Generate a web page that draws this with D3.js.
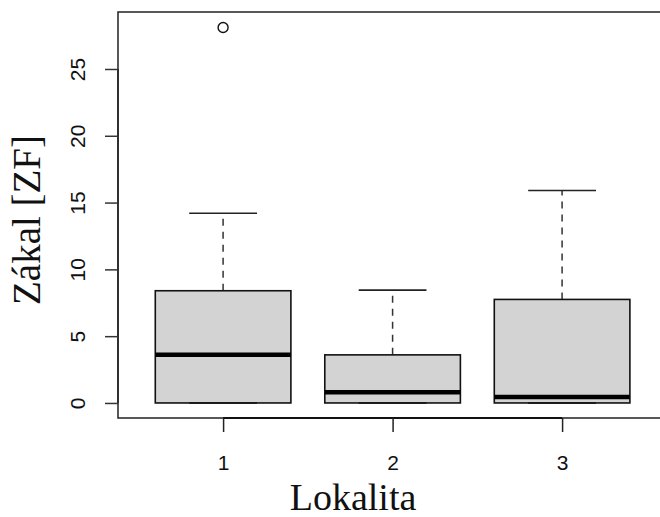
<!DOCTYPE html>
<html>
<head>
<meta charset="utf-8">
<script src="https://cdn.jsdelivr.net/npm/d3@7"></script>
<style>
  body { margin: 0; background: #fff; }
  svg { display: block; }
</style>
</head>
<body>
<div id="chart"></div>
<script>
// Data
const categories = ["1", "2", "3"];
const q1 = [0, 0, 0];
const medians = [3.6, 0.8, 0.45];
const q3 = [8.4, 3.6, 7.75];
const whiskerLow = [0, 0, 0];
const whiskerHigh = [14.2, 8.45, 15.9];
const outliers = [[28.1], [], []];
const yTicks = [0, 5, 10, 15, 20, 25];

const W = 660, H = 517;
const plot = { left: 118, top: 12, bottom: 418 };

const svg = d3.select("#chart").append("svg")
  .attr("width", W)
  .attr("height", H);

// R-style 4% range expansion
const yMin = 0, yMax = 28.14;
const yPad = (yMax - yMin) * 0.04;
const y = d3.scaleLinear()
  .domain([yMin - yPad, yMax + yPad])
  .range([plot.bottom, plot.top]);

const x = d3.scaleLinear()
  .domain([0.5 - 0.12, 3.5 + 0.12])
  .range([plot.left, plot.left + 3.24 * 169.5]);

const boxHalf = (x(2) - x(1)) * 0.4;

const boxes = categories.map((c, i) => ({
  cat: c, pos: i + 1,
  q1: q1[i], med: medians[i], q3: q3[i],
  lo: whiskerLow[i], hi: whiskerHigh[i], out: outliers[i]
}));

const g = svg.append("g");

// whiskers (dashed)
g.selectAll("line.wh-up").data(boxes).enter().append("line")
  .attr("x1", d => x(d.pos)).attr("x2", d => x(d.pos))
  .attr("y1", d => y(d.q3)).attr("y2", d => y(d.hi))
  .attr("stroke", "#333").attr("stroke-width", 1.5)
  .attr("stroke-dasharray", "7,6");

g.selectAll("line.wh-lo").data(boxes).enter().append("line")
  .attr("x1", d => x(d.pos)).attr("x2", d => x(d.pos))
  .attr("y1", d => y(d.q1)).attr("y2", d => y(d.lo))
  .attr("stroke", "#333").attr("stroke-width", 1.5)
  .attr("stroke-dasharray", "7,6");

// staples
g.selectAll("line.st-hi").data(boxes).enter().append("line")
  .attr("x1", d => x(d.pos) - boxHalf / 2).attr("x2", d => x(d.pos) + boxHalf / 2)
  .attr("y1", d => y(d.hi)).attr("y2", d => y(d.hi))
  .attr("stroke", "#222").attr("stroke-width", 1.6);

// boxes
g.selectAll("rect.box").data(boxes).enter().append("rect")
  .attr("x", d => x(d.pos) - boxHalf)
  .attr("y", d => y(d.q3))
  .attr("width", boxHalf * 2)
  .attr("height", d => y(d.q1) - y(d.q3))
  .attr("fill", "#d3d3d3")
  .attr("stroke", "#111").attr("stroke-width", 1.6);

g.selectAll("line.st-lo").data(boxes).enter().append("line")
  .attr("x1", d => x(d.pos) - boxHalf / 2).attr("x2", d => x(d.pos) + boxHalf / 2)
  .attr("y1", d => y(d.lo)).attr("y2", d => y(d.lo))
  .attr("stroke", "#111").attr("stroke-width", 1.6);

// medians
g.selectAll("line.med").data(boxes).enter().append("line")
  .attr("x1", d => x(d.pos) - boxHalf).attr("x2", d => x(d.pos) + boxHalf)
  .attr("y1", d => y(d.med)).attr("y2", d => y(d.med))
  .attr("stroke", "#000").attr("stroke-width", 4.5);

// outliers
const outPts = boxes.flatMap(d => d.out.map(v => ({ pos: d.pos, v })));
g.selectAll("circle.out").data(outPts).enter().append("circle")
  .attr("cx", d => x(d.pos)).attr("cy", d => y(d.v))
  .attr("r", 5)
  .attr("fill", "none").attr("stroke", "#111").attr("stroke-width", 1.4);

// frame (right side runs past the picture edge)
svg.append("path")
  .attr("d", `M${W + 10},${plot.top}H${plot.left}V${plot.bottom}H${W + 10}`)
  .attr("fill", "none").attr("stroke", "#222").attr("stroke-width", 1.5);

// y axis
const yAxis = svg.append("g")
  .attr("transform", `translate(${plot.left},0)`)
  .call(d3.axisLeft(y).tickValues(yTicks).tickSize(13).tickPadding(0).tickFormat(d3.format("d")));
yAxis.select(".domain").attr("d", `M0,${y(0)}V${y(25)}`).attr("stroke", "#222").attr("stroke-width", 1.5);
yAxis.selectAll(".tick line").attr("stroke", "#333").attr("stroke-width", 1.5);
yAxis.selectAll(".tick text")
  .attr("x", null).attr("dy", null)
  .attr("transform", "translate(-33,0) rotate(-90)")
  .attr("text-anchor", "middle")
  .style("font-family", "'Liberation Sans', Arial, sans-serif")
  .style("font-size", "21px")
  .attr("fill", "#111");

// x axis
const xAxis = svg.append("g")
  .attr("transform", `translate(0,${plot.bottom})`)
  .call(d3.axisBottom(x).tickValues([1, 2, 3]).tickSize(14).tickPadding(0)
    .tickFormat(d => categories[d - 1]));
xAxis.select(".domain").attr("d", `M${x(1)},0H${x(3)}`).attr("stroke", "#111").attr("stroke-width", 1.8);
xAxis.selectAll(".tick line").attr("stroke", "#222").attr("stroke-width", 1.5);
xAxis.selectAll(".tick text")
  .attr("y", 52).attr("dy", null)
  .style("font-family", "'Liberation Sans', Arial, sans-serif")
  .style("font-size", "21px")
  .attr("fill", "#111");

// axis titles
svg.append("text")
  .attr("x", 353).attr("y", 510)
  .attr("text-anchor", "middle")
  .style("font-family", "'Liberation Serif', 'Times New Roman', serif")
  .style("font-size", "38px")
  .attr("fill", "#111")
  .text("Lokalita");

svg.append("text")
  .attr("transform", "translate(40,220) rotate(-90)")
  .attr("text-anchor", "middle")
  .style("font-family", "'Liberation Serif', 'Times New Roman', serif")
  .style("font-size", "39px")
  .attr("fill", "#111")
  .text("Zákal [ZF]");
</script>
</body>
</html>
